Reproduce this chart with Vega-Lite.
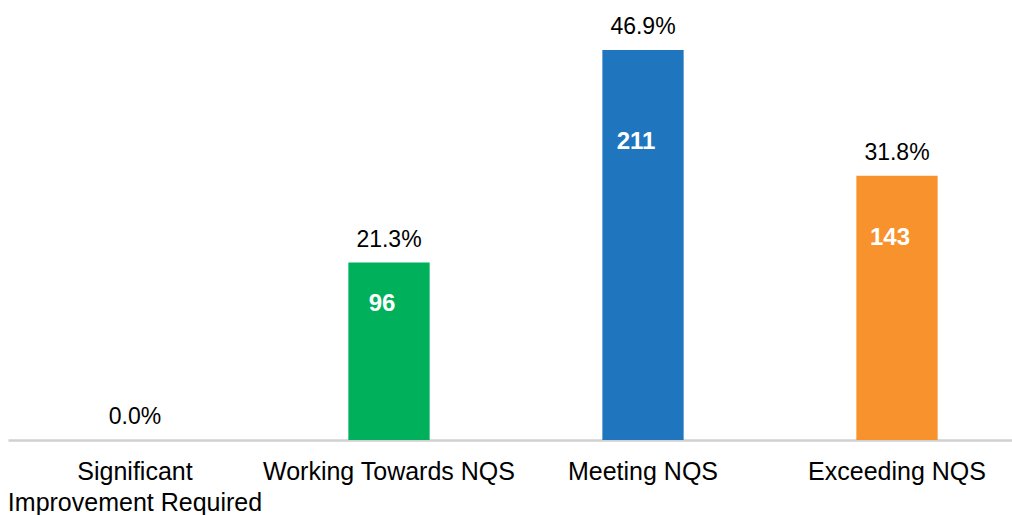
{
  "$schema": "https://vega.github.io/schema/vega-lite/v6.json",
  "autosize": {"type": "none"},
  "padding": {"left": 8, "top": 0, "right": 0, "bottom": 75},
  "width": 1016,
  "height": 440,
  "background": "white",
  "config": {"view": {"stroke": null}, "font": "Liberation Sans"},
  "data": {
    "values": [
      {"category": "Significant|Improvement Required", "count": 0, "pct": "0.0%", "color": "#00B05A"},
      {"category": "Working Towards NQS", "count": 96, "pct": "21.3%", "color": "#00B05A"},
      {"category": "Meeting NQS", "count": 211, "pct": "46.9%", "color": "#1F76BE"},
      {"category": "Exceeding NQS", "count": 143, "pct": "31.8%", "color": "#F7922C"}
    ]
  },
  "encoding": {
    "x": {
      "field": "category",
      "type": "nominal",
      "sort": null,
      "scale": {"paddingInner": 0.68, "paddingOuter": 0.34},
      "axis": {
        "title": null,
        "labelAngle": 0,
        "labelExpr": "split(datum.label, '|')",
        "labelFontSize": 25,
        "labelColor": "#000000",
        "labelPadding": 19,
        "labelLineHeight": 31,
        "ticks": false,
        "domainColor": "#D0D0D0",
        "domainWidth": 2.5,
        "labelLimit": 400
      }
    }
  },
  "layer": [
    {
      "mark": {"type": "bar"},
      "encoding": {
        "y": {"field": "count", "type": "quantitative", "scale": {"domain": [0, 238], "nice": false}, "axis": null},
        "color": {"field": "color", "type": "nominal", "scale": null}
      }
    },
    {
      "mark": {"type": "text", "fontSize": 23, "color": "#000000", "baseline": "middle", "dy": -23},
      "encoding": {
        "y": {"field": "count", "type": "quantitative"},
        "text": {"field": "pct"}
      }
    },
    {
      "transform": [
        {"filter": "datum.count > 0"},
        {"calculate": "datum.count * 0.765", "as": "labelPos"}
      ],
      "mark": {"type": "text", "fontSize": 24, "fontWeight": "bold", "color": "#FFFFFF", "baseline": "middle", "dx": -7},
      "encoding": {
        "y": {"field": "labelPos", "type": "quantitative"},
        "text": {"field": "count", "type": "quantitative"}
      }
    }
  ]
}
